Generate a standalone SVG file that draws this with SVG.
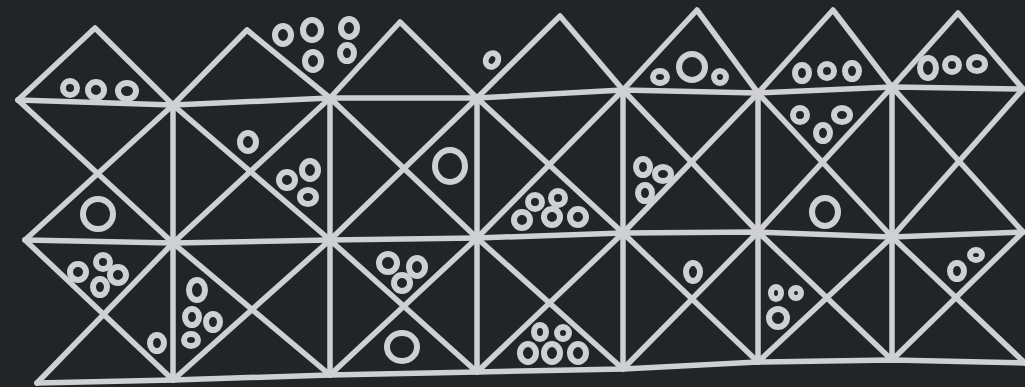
<svg xmlns="http://www.w3.org/2000/svg" width="1025" height="387" viewBox="0 0 1025 387">
<style>
.bg{fill:#222528}
.ln{fill:none;stroke:#cfd0d2;stroke-width:5.5;stroke-linecap:round;stroke-linejoin:round}
.rg{fill:none;stroke:#cfd0d2;stroke-width:6}
</style>
<rect class="bg" width="1025" height="387"/>
<g id="grid">
<polyline class="ln" points="18,100 173,105 330,98 477,98 623,90 758,93 892,87 1023,89"/>
<polyline class="ln" points="25,240 173,243 330,240 477,238 623,233 758,232 892,237 1023,232"/>
<polyline class="ln" points="37,383 173,380 330,375 477,372 623,369 758,362 892,360 1025,363"/>
<polyline class="ln" points="18,100 95,28 173,105 247,30 330,98 400,22 477,98 560,16 623,90 697,10 758,93 833,10 892,87 958,13 1023,89"/>
<line class="ln" x1="173" y1="105" x2="173" y2="380"/>
<line class="ln" x1="330" y1="98" x2="330" y2="375"/>
<line class="ln" x1="477" y1="98" x2="477" y2="372"/>
<line class="ln" x1="623" y1="90" x2="623" y2="369"/>
<line class="ln" x1="758" y1="93" x2="758" y2="362"/>
<line class="ln" x1="892" y1="87" x2="892" y2="360"/>
<line class="ln" x1="18" y1="100" x2="173" y2="243"/><line class="ln" x1="173" y1="105" x2="25" y2="240"/>
<line class="ln" x1="173" y1="105" x2="330" y2="240"/><line class="ln" x1="330" y1="98" x2="173" y2="243"/>
<line class="ln" x1="330" y1="98" x2="477" y2="238"/><line class="ln" x1="477" y1="98" x2="330" y2="240"/>
<line class="ln" x1="477" y1="98" x2="623" y2="233"/><line class="ln" x1="623" y1="90" x2="477" y2="238"/>
<line class="ln" x1="623" y1="90" x2="758" y2="232"/><line class="ln" x1="758" y1="93" x2="623" y2="233"/>
<line class="ln" x1="758" y1="93" x2="892" y2="237"/><line class="ln" x1="892" y1="87" x2="758" y2="232"/>
<line class="ln" x1="892" y1="87" x2="1023" y2="232"/><line class="ln" x1="1023" y1="89" x2="892" y2="237"/>
<line class="ln" x1="25" y1="240" x2="173" y2="380"/><line class="ln" x1="173" y1="243" x2="37" y2="383"/>
<line class="ln" x1="173" y1="243" x2="330" y2="375"/><line class="ln" x1="330" y1="240" x2="173" y2="380"/>
<line class="ln" x1="330" y1="240" x2="477" y2="372"/><line class="ln" x1="477" y1="238" x2="330" y2="375"/>
<line class="ln" x1="477" y1="238" x2="623" y2="369"/><line class="ln" x1="623" y1="233" x2="477" y2="372"/>
<line class="ln" x1="623" y1="233" x2="758" y2="362"/><line class="ln" x1="758" y1="232" x2="623" y2="369"/>
<line class="ln" x1="758" y1="232" x2="892" y2="360"/><line class="ln" x1="892" y1="237" x2="758" y2="362"/>
<line class="ln" x1="892" y1="237" x2="1025" y2="363"/><line class="ln" x1="1023" y1="232" x2="892" y2="360"/>
</g>
<g id="dots">
<ellipse class="rg" cx="70" cy="88" rx="7" ry="7"/>
<ellipse class="rg" cx="96" cy="90" rx="8" ry="8"/>
<ellipse class="rg" cx="127" cy="91" rx="9" ry="8"/>
<ellipse class="rg" cx="283" cy="35" rx="8" ry="9"/>
<ellipse class="rg" cx="312" cy="30" rx="9" ry="10"/>
<ellipse class="rg" cx="313" cy="61" rx="8" ry="9"/>
<ellipse class="rg" cx="349" cy="28" rx="8" ry="9"/>
<ellipse class="rg" cx="347" cy="53" rx="7" ry="8"/>
<ellipse class="rg" cx="492" cy="60" rx="6" ry="7" transform="rotate(30 492 60)"/>
<ellipse class="rg" cx="660" cy="77" rx="7" ry="6"/>
<ellipse class="rg" cx="692" cy="67" rx="13" ry="13"/>
<ellipse class="rg" cx="720" cy="77" rx="6" ry="6"/>
<ellipse class="rg" cx="802" cy="73" rx="7" ry="8"/>
<ellipse class="rg" cx="827" cy="71" rx="7" ry="7"/>
<ellipse class="rg" cx="852" cy="71" rx="7" ry="8"/>
<ellipse class="rg" cx="928" cy="68" rx="8" ry="10"/>
<ellipse class="rg" cx="952" cy="65" rx="7" ry="7"/>
<ellipse class="rg" cx="977" cy="64" rx="8" ry="7"/>
<ellipse class="rg" cx="98" cy="214" rx="15" ry="15"/>
<ellipse class="rg" cx="248" cy="142" rx="8" ry="9"/>
<ellipse class="rg" cx="287" cy="180" rx="8" ry="8"/>
<ellipse class="rg" cx="310" cy="170" rx="8" ry="9"/>
<ellipse class="rg" cx="308" cy="197" rx="8" ry="7"/>
<ellipse class="rg" cx="450" cy="166" rx="15" ry="16"/>
<ellipse class="rg" cx="535" cy="202" rx="7" ry="7"/>
<ellipse class="rg" cx="558" cy="198" rx="7" ry="7"/>
<ellipse class="rg" cx="522" cy="220" rx="8" ry="8"/>
<ellipse class="rg" cx="552" cy="217" rx="8" ry="8"/>
<ellipse class="rg" cx="578" cy="217" rx="8" ry="8"/>
<ellipse class="rg" cx="643" cy="167" rx="7" ry="8"/>
<ellipse class="rg" cx="663" cy="174" rx="8" ry="7"/>
<ellipse class="rg" cx="645" cy="193" rx="7" ry="8"/>
<ellipse class="rg" cx="800" cy="115" rx="7" ry="7"/>
<ellipse class="rg" cx="842" cy="115" rx="8" ry="7"/>
<ellipse class="rg" cx="823" cy="133" rx="7" ry="8"/>
<ellipse class="rg" cx="825" cy="212" rx="13" ry="14"/>
<ellipse class="rg" cx="78" cy="272" rx="8" ry="8"/>
<ellipse class="rg" cx="103" cy="262" rx="7" ry="7"/>
<ellipse class="rg" cx="118" cy="275" rx="8" ry="8"/>
<ellipse class="rg" cx="100" cy="287" rx="7" ry="8"/>
<ellipse class="rg" cx="157" cy="343" rx="7" ry="8"/>
<ellipse class="rg" cx="197" cy="290" rx="8" ry="10"/>
<ellipse class="rg" cx="192" cy="317" rx="7" ry="8"/>
<ellipse class="rg" cx="213" cy="322" rx="7" ry="8"/>
<ellipse class="rg" cx="191" cy="340" rx="7" ry="6"/>
<ellipse class="rg" cx="388" cy="263" rx="9" ry="9"/>
<ellipse class="rg" cx="417" cy="267" rx="8" ry="9"/>
<ellipse class="rg" cx="402" cy="283" rx="8" ry="8"/>
<ellipse class="rg" cx="402" cy="347" rx="15" ry="14"/>
<ellipse class="rg" cx="540" cy="332" rx="6" ry="7"/>
<ellipse class="rg" cx="563" cy="333" rx="6" ry="6"/>
<ellipse class="rg" cx="528" cy="353" rx="8" ry="9"/>
<ellipse class="rg" cx="552" cy="353" rx="8" ry="9"/>
<ellipse class="rg" cx="578" cy="353" rx="8" ry="9"/>
<ellipse class="rg" cx="693" cy="272" rx="7" ry="9"/>
<ellipse class="rg" cx="776" cy="293" rx="5" ry="6"/>
<ellipse class="rg" cx="796" cy="293" rx="5" ry="5"/>
<ellipse class="rg" cx="778" cy="318" rx="9" ry="9"/>
<ellipse class="rg" cx="957" cy="271" rx="7" ry="8"/>
<ellipse class="rg" cx="976" cy="255" rx="6" ry="5"/>
</g>
</svg>
